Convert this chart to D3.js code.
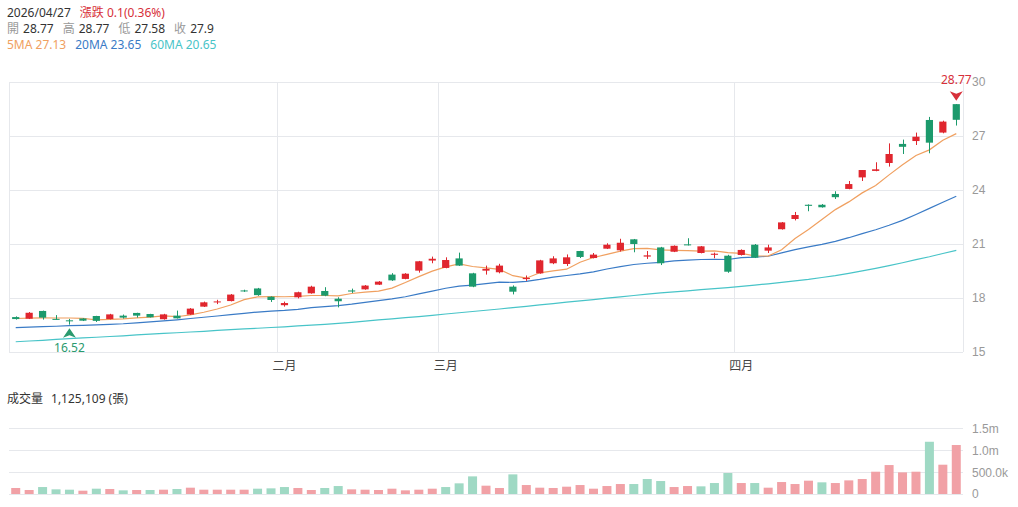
<!DOCTYPE html>
<html><head><meta charset="utf-8">
<script src="https://cdn.jsdelivr.net/npm/d3@7"></script>
<style>
body{margin:0;background:#fff;}
svg{display:block;font-family:"Noto Sans","Noto Sans CJK TC",sans-serif;}
</style>
</head><body>
<svg id="chart" width="1018" height="507"></svg>
<script>
// ---------- data ----------
const dates = [
 "2026-01-05","2026-01-06","2026-01-07","2026-01-08","2026-01-09","2026-01-12","2026-01-13","2026-01-14","2026-01-15","2026-01-16",
 "2026-01-19","2026-01-20","2026-01-21","2026-01-22","2026-01-23","2026-01-26","2026-01-27","2026-01-28","2026-01-29","2026-01-30",
 "2026-02-02","2026-02-03","2026-02-04","2026-02-05","2026-02-06","2026-02-09","2026-02-10","2026-02-11","2026-02-23","2026-02-24",
 "2026-02-25","2026-02-26",
 "2026-03-02","2026-03-03","2026-03-04","2026-03-05","2026-03-06","2026-03-09","2026-03-10","2026-03-11","2026-03-12","2026-03-13",
 "2026-03-16","2026-03-17","2026-03-18","2026-03-19","2026-03-20","2026-03-23","2026-03-24","2026-03-25","2026-03-26","2026-03-27",
 "2026-03-30","2026-03-31",
 "2026-04-01","2026-04-02","2026-04-07","2026-04-08","2026-04-09","2026-04-10","2026-04-13","2026-04-14","2026-04-15","2026-04-16",
 "2026-04-17","2026-04-20","2026-04-21","2026-04-22","2026-04-23","2026-04-24","2026-04-27"
];
const openP = [16.94,16.85,17.28,16.84,16.76,16.86,17.00,16.83,17.02,17.17,
 17.11,16.82,17.02,17.08,17.52,17.77,17.83,18.42,18.53,18.07,
 17.60,18.04,18.26,18.39,17.96,18.42,18.48,18.74,19.30,19.06,
 19.52,20.08,19.67,20.20,19.37,19.52,19.43,18.63,19.05,19.37,
 19.93,19.89,20.61,20.22,20.74,20.65,21.26,20.30,20.81,20.57,
 20.98,20.50,20.40,20.35,20.39,20.96,20.63,21.82,22.39,23.18,
 23.18,23.78,24.06,24.70,25.06,25.50,26.56,26.72,27.89,27.19,28.77];
const highP = [16.98,17.22,17.30,17.05,16.84,16.88,17.01,17.12,17.08,17.18,
 17.12,17.12,17.30,17.44,17.80,17.90,18.22,18.46,18.56,18.09,
 17.80,18.35,18.68,18.60,18.04,18.52,18.72,18.94,19.38,19.38,
 20.06,20.30,20.26,20.52,19.40,19.80,19.90,18.70,19.25,20.12,
 20.32,20.42,20.62,20.50,21.04,21.29,21.28,20.61,20.84,20.92,
 21.32,20.89,20.52,20.40,20.70,21.00,20.96,22.22,22.78,23.20,
 23.22,23.93,24.50,25.11,25.54,26.59,26.80,27.19,28.06,27.85,28.77];
const lowP = [16.80,16.83,16.80,16.79,16.52,16.72,16.67,16.81,16.86,16.91,
 16.92,16.80,16.86,17.06,17.50,17.66,17.81,18.34,18.12,17.78,
 17.52,17.98,18.24,18.10,17.48,18.28,18.46,18.72,18.95,19.04,
 19.41,19.93,19.65,19.78,18.60,19.30,19.37,18.20,18.95,19.35,
 19.88,19.78,20.22,20.20,20.72,20.58,20.54,20.17,19.83,20.55,
 20.92,20.48,20.21,19.40,20.36,20.22,20.50,21.80,22.31,22.82,
 23.02,23.50,24.04,24.50,25.04,25.30,26.00,26.50,26.04,27.15,27.58];
const closeP = [16.83,17.18,16.91,16.80,16.71,16.74,16.73,17.09,16.91,17.02,
 16.93,17.09,16.87,17.41,17.76,17.81,18.19,18.37,18.16,17.89,
 17.72,18.32,18.63,18.13,17.82,18.36,18.69,18.91,18.98,19.35,
 20.04,20.18,20.11,19.80,18.63,19.62,19.80,18.35,19.12,20.09,
 20.20,20.26,20.28,20.41,20.96,21.07,21.00,20.37,19.93,20.90,
 20.93,20.87,20.46,19.46,20.67,20.24,20.81,22.20,22.61,23.12,
 23.04,23.60,24.33,25.11,25.15,26.00,26.40,26.96,26.63,27.80,27.90];
const volume = [138000,92000,160000,107000,99000,76000,122000,115000,84000,92000,
 92000,99000,115000,145000,99000,99000,99000,99000,122000,130000,
 160000,138000,92000,138000,183000,107000,99000,92000,122000,84000,
 99000,122000,160000,245000,405000,191000,138000,451000,206000,145000,
 138000,168000,206000,122000,183000,229000,229000,344000,298000,160000,
 183000,176000,252000,482000,252000,252000,145000,275000,229000,306000,
 268000,252000,313000,344000,512000,665000,497000,512000,1200000,673000,1125109];
const ma5 = [16.86,16.88,16.90,16.89,16.89,16.87,16.78,16.81,16.84,16.90,
 16.94,17.01,16.96,17.06,17.21,17.39,17.61,17.91,18.06,18.08,
 18.07,18.09,18.14,18.14,18.12,18.25,18.33,18.38,18.55,18.86,
 19.19,19.49,19.73,19.90,19.75,19.67,19.59,19.24,19.10,19.40,
 19.51,19.60,19.99,20.25,20.42,20.60,20.74,20.76,20.67,20.65,
 20.63,20.60,20.62,20.52,20.48,20.34,20.33,20.68,21.31,21.80,
 22.36,22.91,23.34,23.84,24.25,24.84,25.40,25.92,26.23,26.76,27.13];
const ma20 = [16.35,16.38,16.41,16.43,16.46,16.48,16.51,16.54,16.57,16.62,
 16.67,16.73,16.79,16.86,16.93,17.00,17.08,17.15,17.22,17.27,
 17.31,17.37,17.46,17.52,17.58,17.66,17.76,17.85,17.95,18.07,
 18.23,18.38,18.54,18.66,18.71,18.80,18.88,18.87,18.92,19.03,
 19.16,19.25,19.34,19.45,19.61,19.74,19.86,19.93,19.98,20.06,
 20.10,20.14,20.15,20.14,20.24,20.27,20.32,20.51,20.69,20.84,
 20.98,21.15,21.35,21.58,21.79,22.04,22.31,22.64,22.98,23.32,23.65];
const ma60 = [15.57,15.61,15.65,15.70,15.74,15.78,15.82,15.86,15.90,15.95,
 15.99,16.03,16.07,16.11,16.15,16.20,16.24,16.28,16.32,16.36,
 16.40,16.45,16.49,16.54,16.59,16.65,16.71,16.78,16.84,16.91,
 16.97,17.04,17.11,17.18,17.25,17.32,17.39,17.47,17.54,17.62,
 17.69,17.77,17.84,17.91,17.99,18.06,18.14,18.21,18.28,18.34,
 18.40,18.46,18.52,18.58,18.65,18.72,18.79,18.87,18.95,19.03,
 19.14,19.24,19.37,19.51,19.65,19.80,19.96,20.13,20.29,20.47,20.65];
const priceTicks = [15,18,21,24,27,30];
const volumeTicks = [0,500000,1000000,1500000];
const monthNames = ["一月","二月","三月","四月","五月","六月","七月","八月","九月","十月","十一月","十二月"];

// ---------- setup ----------
const C = {
  up:"#e0262e", down:"#1c9a6c", volUp:"#f1a1a6", volDown:"#9fd9c4",
  grid:"#e6e8ec", axisText:"#999", text:"#333", label:"#999",
  ma5:"#f0a060", ma20:"#3a7bc6", ma60:"#48c4c8", red:"#d7303a", green:"#2a9a6e"
};
const svg = d3.select("#chart");
const L = 9, R = 963;
const n = dates.length;
const data = dates.map((d,i)=>({date:d,i,o:openP[i],h:highP[i],l:lowP[i],c:closeP[i],v:volume[i],
  volUp: i===0 ? true : closeP[i] >= closeP[i-1]}));

const x = d3.scaleBand().domain(dates).range([L,R]).padding(0);
const bw = x.bandwidth();
const cx = d => x(d) + bw/2;
const y = d3.scaleLinear().domain([15,30]).range([352,82]);
const yv = d3.scaleLinear().domain([0,1500000]).range([494,428.7]);

// ---------- header ----------
const last = data[n-1], prev = data[n-2];
const chg = last.c - prev.c;
const fmtP = v => String(+v.toFixed(2));
const h1 = svg.append("text").attr("x",7).attr("y",17).attr("font-size",12);
h1.append("tspan").attr("fill",C.text).text(last.date.replace(/-/g,"/"));
h1.append("tspan").attr("dx",9).attr("fill",chg>=0?C.red:C.green)
  .text(`漲跌 ${fmtP(chg)}(${(chg/prev.c*100).toFixed(2)}%)`);
const h2 = svg.append("text").attr("x",7).attr("y",33).attr("font-size",12);
[["開",last.o],["高",last.h],["低",last.l],["收",last.c]].forEach((p,k)=>{
  h2.append("tspan").attr("dx",k?9:0).attr("fill",C.label).text(p[0]);
  h2.append("tspan").attr("dx",4).attr("fill",C.text).text(fmtP(p[1]));
});
const h3 = svg.append("text").attr("x",7).attr("y",49).attr("font-size",12);
[["5MA",ma5,C.ma5],["20MA",ma20,C.ma20],["60MA",ma60,C.ma60]].forEach((p,k)=>{
  h3.append("tspan").attr("dx",k?9:0).attr("fill",p[2]).text(`${p[0]} ${p[1][n-1].toFixed(2)}`);
});

// ---------- price panel ----------
const gGrid = svg.append("g");
gGrid.selectAll("line.h").data(priceTicks).join("line")
  .attr("x1",L).attr("x2",R).attr("y1",d=>y(d)).attr("y2",d=>y(d))
  .attr("stroke",C.grid).attr("stroke-width",1).attr("shape-rendering","crispEdges");
gGrid.append("line").attr("x1",L).attr("x2",L).attr("y1",y(30)).attr("y2",y(15))
  .attr("stroke",C.grid).attr("shape-rendering","crispEdges");
gGrid.append("line").attr("x1",R).attr("x2",R).attr("y1",y(30)).attr("y2",y(15))
  .attr("stroke",C.grid).attr("shape-rendering","crispEdges");

const monthStarts = data.filter((d,i)=> i>0 && d.date.slice(5,7)!==data[i-1].date.slice(5,7));
gGrid.selectAll("line.m").data(monthStarts).join("line")
  .attr("x1",d=>x(d.date)).attr("x2",d=>x(d.date)).attr("y1",y(30)).attr("y2",y(15))
  .attr("stroke",C.grid).attr("shape-rendering","crispEdges");
svg.append("g").selectAll("text").data(monthStarts).join("text")
  .attr("x",d=>cx(d.date)).attr("y",370).attr("text-anchor","middle")
  .attr("font-size",12).attr("fill","#444")
  .text(d=>monthNames[+d.date.slice(5,7)-1]);

// right price axis
const ax = svg.append("g").attr("transform",`translate(${R},0)`)
  .call(d3.axisRight(y).tickValues(priceTicks).tickSize(0).tickPadding(9).tickFormat(d3.format("d")));
ax.select(".domain").remove();
ax.selectAll("text").attr("fill",C.axisText).attr("font-size",12).attr("font-family",null);

// MA lines
const line = arr => d3.line().x((d,i)=>cx(dates[i])).y(d=>y(d))(arr);
[[ma60,C.ma60],[ma20,C.ma20],[ma5,C.ma5]].forEach(p=>{
  svg.append("path").attr("d",line(p[0])).attr("fill","none").attr("stroke",p[1]).attr("stroke-width",1.2);
});

// candles
const cw = 7.2;
const gC = svg.append("g");
gC.selectAll("line").data(data).join("line")
  .attr("x1",d=>Math.round(cx(d.date))+0.5).attr("x2",d=>Math.round(cx(d.date))+0.5)
  .attr("y1",d=>y(d.h)).attr("y2",d=>y(d.l))
  .attr("stroke",d=>d.c>=d.o?C.up:C.down).attr("stroke-width",1);
gC.selectAll("rect").data(data).join("rect")
  .attr("x",d=>cx(d.date)-cw/2).attr("width",cw)
  .attr("y",d=>y(Math.max(d.o,d.c)))
  .attr("height",d=>Math.max(1,Math.abs(y(d.o)-y(d.c))))
  .attr("fill",d=>d.c>=d.o?C.up:C.down);

// high / low markers
const hiIdx = d3.maxIndex(highP), loIdx = d3.minIndex(lowP);
const hx = cx(dates[hiIdx]), hy = y(highP[hiIdx]) - 3.5;
svg.append("path").attr("transform",`translate(${hx},${hy})`)
  .attr("d","M-6.5,-9.5 L0,-7 L6.5,-9.5 L0,0 Z").attr("fill",C.red);
svg.append("text").attr("x",hx).attr("y",hy-17).attr("text-anchor","middle")
  .attr("font-size",12).attr("fill",C.red).text(fmtP(highP[hiIdx]));
const lx = cx(dates[loIdx]), ly = y(lowP[loIdx]) + 3.5;
svg.append("path").attr("transform",`translate(${lx},${ly})`)
  .attr("d","M-6.5,9.5 L0,7 L6.5,9.5 L0,0 Z").attr("fill",C.green);
svg.append("text").attr("x",lx).attr("y",ly+23.5).attr("text-anchor","middle")
  .attr("font-size",12).attr("fill",C.green).text(fmtP(lowP[loIdx]));

// ---------- volume panel ----------
const vt = svg.append("text").attr("x",7).attr("y",403).attr("font-size",12).attr("fill",C.text);
vt.append("tspan").text("成交量");
vt.append("tspan").attr("dx",8).text(`${d3.format(",")(last.v)} (張)`);

svg.append("g").selectAll("line").data(volumeTicks).join("line")
  .attr("x1",L).attr("x2",R).attr("y1",d=>yv(d)).attr("y2",d=>yv(d))
  .attr("stroke",C.grid).attr("shape-rendering","crispEdges");
const vfmt = v => v===0 ? "0" : v>=1e6 ? (v/1e6).toFixed(1)+"m" : (v/1e3).toFixed(1)+"k";
const vax = svg.append("g").attr("transform",`translate(${R},0)`)
  .call(d3.axisRight(yv).tickValues(volumeTicks).tickSize(0).tickPadding(9).tickFormat(vfmt));
vax.select(".domain").remove();
vax.selectAll("text").attr("fill",C.axisText).attr("font-size",12).attr("font-family",null);

const vbw = bw*0.67;
svg.append("g").selectAll("rect").data(data).join("rect")
  .attr("x",d=>cx(d.date)-vbw/2).attr("width",vbw)
  .attr("y",d=>yv(d.v)).attr("height",d=>yv(0)-yv(d.v))
  .attr("fill",d=>d.volUp?C.volUp:C.volDown);
</script>
</body></html>
